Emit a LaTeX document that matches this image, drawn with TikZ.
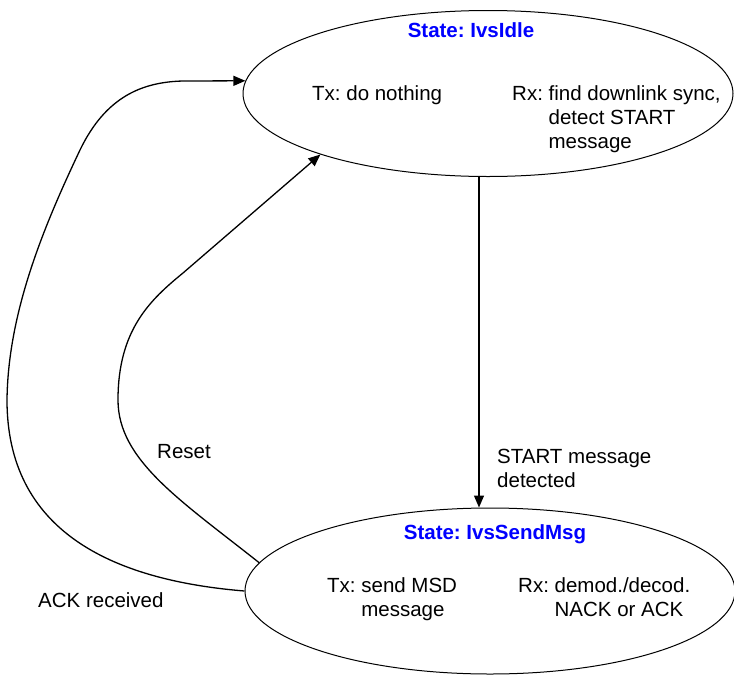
\documentclass[tikz,border=0pt]{standalone}
\usepackage{fontspec}
\setmainfont{Liberation Sans}
\usetikzlibrary{shapes.geometric,arrows.meta,positioning}
\tikzset{
  st/.style={ellipse, draw=black, line width=1pt, minimum width=490pt, minimum height=166pt, inner sep=0pt},
  ttl/.style={font=\fontsize{20.5}{24}\selectfont\bfseries\frenchspacing, text=blue, inner sep=0pt},
  txt/.style={font=\fontsize{20.5}{24}\selectfont\frenchspacing, inner sep=0pt},
  tr/.style={line width=1.3pt, -{Triangle[length=12pt,width=10pt]}}
}

\begin{document}
\begin{tikzpicture}[x=1pt,y=-1pt]
\useasboundingbox (0,0) rectangle (734,675);
\node[st] (idle) at (488,93.5) {};
\node[st] (send) at (490,591) {};
% texts inside the states
\node[ttl, anchor=base] (idlettl) at (471,37) {State: IvsIdle};
\node[txt, anchor=base west] (idletx) at (312,100) {Tx: do nothing};
\node[txt, anchor=base west] (idlerx) at (512,100) {Rx: \begin{tabular}[t]{@{}l@{}}find downlink sync,\\ detect START\\ message\end{tabular}};
\node[ttl, anchor=base] (sendttl) at (495,539) {State: IvsSendMsg};
\node[txt, anchor=base west] (sendtx) at (327,592) {Tx: \begin{tabular}[t]{@{}l@{}}send MSD\\ message\end{tabular}};
\node[txt, anchor=base west] (sendrx) at (518,592) {Rx: \begin{tabular}[t]{@{}l@{}}demod./decod.\\ NACK or ACK\end{tabular}};
% transitions
\draw[tr] ([xshift=-9pt]idle.south) -- ([xshift=-11pt]send.north);
\node[txt, anchor=base west] (startlbl) at (497,463) {\begin{tabular}[t]{@{}l@{}}START message\\ detected\end{tabular}};
\draw[tr] (send.173) .. controls (180,500) and (118,460) .. (118,400)
  .. controls (118,330) and (150,300) .. (183,273) -- (idle.200);
\node[txt, anchor=base west] (resetlbl) at (157,458) {Reset};
\draw[tr] (send.west) .. controls (110,580) and (7,530) .. (7,400)
  .. controls (8,313) and (43,228) .. (80,150)
  .. controls (106,96) and (143,82) .. (183,81) -- (idle.177);
\node[txt, anchor=base west] (acklbl) at (38,607) {ACK received};
\end{tikzpicture}
\end{document}
